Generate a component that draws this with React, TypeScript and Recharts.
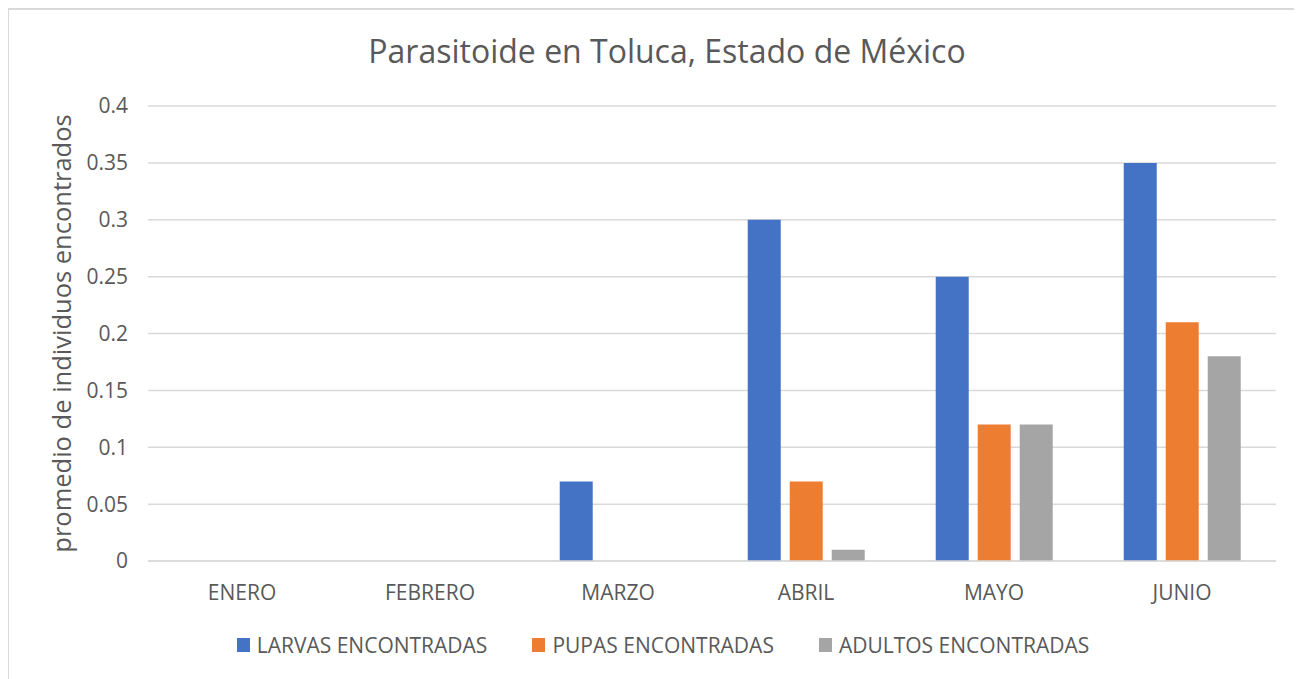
import React from "react";
import {
  BarChart,
  Bar,
  XAxis,
  YAxis,
  CartesianGrid,
  Legend,
  Label,
} from "recharts";

// Months sampled
const months = ["ENERO", "FEBRERO", "MARZO", "ABRIL", "MAYO", "JUNIO"];

// Average number of individuals found per month
const larvas = [0, 0, 0.07, 0.3, 0.25, 0.35];
const pupas = [0, 0, 0, 0.07, 0.12, 0.21];
const adultos = [0, 0, 0, 0.01, 0.12, 0.18];

const yTicks = [0, 0.05, 0.1, 0.15, 0.2, 0.25, 0.3, 0.35, 0.4];

const series = [
  { key: "larvas", name: "LARVAS ENCONTRADAS", color: "#4472C4" },
  { key: "pupas", name: "PUPAS ENCONTRADAS", color: "#ED7D31" },
  { key: "adultos", name: "ADULTOS ENCONTRADAS", color: "#A5A5A5" },
];

const data = months.map((m, i) => ({
  month: m,
  larvas: larvas[i],
  pupas: pupas[i],
  adultos: adultos[i],
}));

const FONT = "'Open Sans', 'Noto Sans', sans-serif";
const TEXT = "#595959";

const W = 1294;
const H = 671;

const LegendContent = () => (
  <div
    style={{
      height: 24,
      display: "flex",
      alignItems: "center",
      justifyContent: "center",
      fontFamily: FONT,
      fontSize: 21,
      color: TEXT,
      paddingLeft: 40,
    }}
  >
    {series.map((s, i) => (
      <div
        key={s.key}
        style={{
          display: "flex",
          alignItems: "center",
          marginLeft: i === 0 ? 0 : 45,
        }}
      >
        <span
          style={{
            display: "inline-block",
            width: 13,
            height: 14,
            background: s.color,
            marginRight: 7,
          }}
        />
        <span>{s.name}</span>
      </div>
    ))}
  </div>
);

export default function App() {
  return (
    <div
      style={{
        width: W,
        height: H,
        borderTop: "2px solid #d9d9d9",
        borderLeft: "2px solid #d9d9d9",
        background: "#fff",
        position: "relative",
        marginLeft: -1,
      }}
    >
      <div
        style={{
          position: "absolute",
          top: 0,
          left: 0,
          width: W,
          textAlign: "center",
          fontFamily: FONT,
          fontSize: 32,
          color: TEXT,
          lineHeight: "82px",
          paddingLeft: 22,
          boxSizing: "border-box",
        }}
      >
        Parasitoide en Toluca, Estado de México
      </div>
      <BarChart
        width={W}
        height={H}
        data={data}
        margin={{ top: 96, right: 27, left: 1, bottom: 24 }}
        barCategoryGap="19%"
        barGap={9}
      >
        <CartesianGrid vertical={false} stroke="#d9d9d9" strokeWidth={1.5} />
        <XAxis
          dataKey="month"
          height={72}
          axisLine={{ stroke: "#d9d9d9", strokeWidth: 1.5 }}
          tickLine={false}
          tick={{ fill: TEXT, fontSize: 21, fontFamily: FONT }}
          tickMargin={18}
        />
        <YAxis
          width={138}
          domain={[0, 0.4]}
          ticks={yTicks}
          axisLine={false}
          tickLine={false}
          tick={{ fill: TEXT, fontSize: 21, fontFamily: FONT }}
          tickMargin={14}
        >
          <Label
            value="promedio de individuos encontrados"
            angle={-90}
            position="insideLeft"
            offset={52}
            style={{
              textAnchor: "middle",
              fill: TEXT,
              fontSize: 25.5,
              fontFamily: FONT,
            }}
          />
        </YAxis>
        <Legend verticalAlign="bottom" content={<LegendContent />} />
        {series.map((s) => (
          <Bar
            key={s.key}
            dataKey={s.key}
            name={s.name}
            fill={s.color}
            isAnimationActive={false}
          />
        ))}
      </BarChart>
    </div>
  );
}
